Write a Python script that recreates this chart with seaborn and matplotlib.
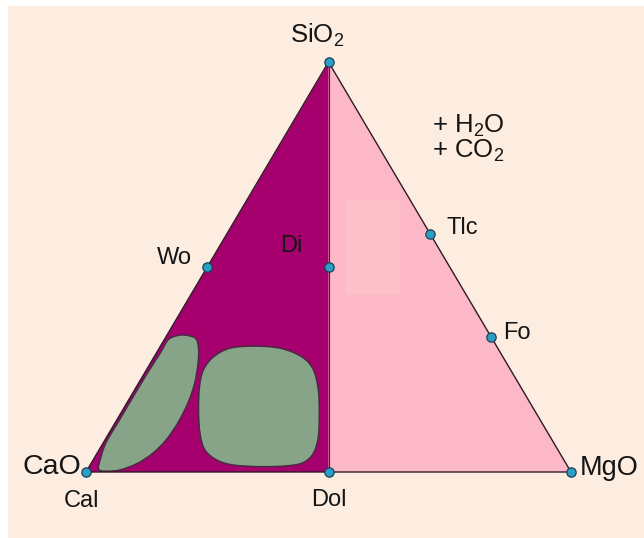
import numpy as np
import pandas as pd
import matplotlib
matplotlib.use("Agg")
import matplotlib.pyplot as plt
from matplotlib.path import Path
from matplotlib.patches import PathPatch, Polygon, Rectangle
import seaborn as sns

# Phases in the CaO-MgO-SiO2 system, molar proportions
phase_names = ["Cal", "Dol", "MgO", "SiO2", "Wo", "Di", "Tlc", "Fo"]
phase_cao = [1.00, 0.50, 0.00, 0.00, 0.50, 0.25, 0.00, 0.00]
phase_mgo = [0.00, 0.50, 1.00, 0.00, 0.00, 0.25, 0.42, 0.67]
phase_sio2 = [0.00, 0.00, 0.00, 1.00, 0.50, 0.50, 0.58, 0.33]

# Two stability fields (outline in diagram coordinates)
field_a_x = [0.204, 0.226, 0.232, 0.231, 0.224, 0.210, 0.189, 0.165, 0.138,
             0.106, 0.070, 0.039, 0.026, 0.029, 0.041, 0.069, 0.097, 0.127,
             0.153, 0.169, 0.186]
field_a_y = [0.334, 0.326, 0.302, 0.265, 0.216, 0.168, 0.119, 0.078, 0.046,
             0.021, 0.005, 0.002, 0.007, 0.029, 0.071, 0.127, 0.183, 0.242,
             0.290, 0.322, 0.332]
field_b_x = [0.345, 0.400, 0.445, 0.469, 0.479, 0.481, 0.479, 0.469, 0.448,
             0.414, 0.359, 0.304, 0.270, 0.245, 0.235, 0.232, 0.234, 0.242,
             0.263, 0.297]
field_b_y = [0.307, 0.302, 0.281, 0.249, 0.200, 0.143, 0.086, 0.046, 0.023,
             0.015, 0.013, 0.017, 0.029, 0.054, 0.094, 0.151, 0.208, 0.249,
             0.281, 0.302]

C_BG = "#FDEDE0"
C_MAG = "#A6006F"
C_PINK = "#FCB8C6"
C_GREEN = "#88A488"
C_DOT = "#2A9FC6"
C_LINE = "#2E1A28"
C_TEXT = "#151515"


def to_xy(cao, mgo, sio2):
    cao, mgo, sio2 = map(np.asarray, (cao, mgo, sio2))
    tot = cao + mgo + sio2
    return (mgo + sio2 / 2) / tot, sio2 / tot


def smooth_closed(xs, ys):
    """Closed Catmull-Rom outline expressed as cubic Bezier path."""
    P = np.column_stack([xs, ys])
    n = len(P)
    verts = [P[0]]
    codes = [Path.MOVETO]
    for i in range(n):
        p0, p1, p2, p3 = P[i - 1], P[i], P[(i + 1) % n], P[(i + 2) % n]
        c1 = p1 + (p2 - p0) / 6
        c2 = p2 - (p3 - p1) / 6
        verts += [c1, c2, p2]
        codes += [Path.CURVE4] * 3
    return Path(np.array(verts), codes)


sns.set_theme(style="white")
plt.rcParams["font.family"] = ["Liberation Sans", "DejaVu Sans"]
plt.rcParams["mathtext.fontset"] = "custom"
plt.rcParams["mathtext.rm"] = "Liberation Sans"
plt.rcParams["mathtext.it"] = "Liberation Sans"
plt.rcParams["mathtext.default"] = "rm"

fig = plt.figure(figsize=(6.44, 5.38), dpi=100, facecolor="white")
ax = fig.add_axes([8 / 644, 0, 636 / 644, 532 / 538])
ax.set_facecolor(C_BG)
ax.set_xlim(-78 / 485, 558 / 485)
ax.set_ylim(-66 / 410, 466 / 410)
ax.set_xticks([])
ax.set_yticks([])
for s in ax.spines.values():
    s.set_visible(False)

df = pd.DataFrame({"phase": phase_names, "CaO": phase_cao,
                   "MgO": phase_mgo, "SiO2": phase_sio2})
df["x"], df["y"] = to_xy(df["CaO"], df["MgO"], df["SiO2"])
pos = {r.phase: (r.x, r.y) for r in df.itertuples()}

cao, dol, mgo, top = pos["Cal"], pos["Dol"], pos["MgO"], pos["SiO2"]

# sub-triangles
ax.add_patch(Polygon([cao, dol, top], closed=True, fc=C_MAG, ec="none", zorder=1))
ax.add_patch(Polygon([dol, mgo, top], closed=True, fc=C_PINK, ec="none", zorder=1))
ax.add_patch(Rectangle((0.534, 0.432), 0.113, 0.231, fc="#FFC6CB",
                       ec="none", alpha=0.55, zorder=1.5))

# stability fields
for fx, fy in [(field_a_x, field_a_y), (field_b_x, field_b_y)]:
    ax.add_patch(PathPatch(smooth_closed(fx, fy), fc=C_GREEN, ec="#4A2A42",
                           lw=1.1, zorder=2))

# outline and Dol-SiO2 join
ax.add_patch(Polygon([cao, mgo, top], closed=True, fill=False, ec=C_LINE,
                     lw=1.0, zorder=3))
ax.plot([dol[0], top[0]], [dol[1], top[1]], color="#5A1040", lw=0.8, zorder=3)

sns.scatterplot(data=df, x="x", y="y", ax=ax, s=45, color=C_DOT,
                edgecolor="#1F3F55", linewidth=0.9, zorder=4, legend=False)
ax.set_xlabel("")
ax.set_ylabel("")

# labels: (anchor phase, text, dx px, dy px, ha, size)
labels = [
    ("SiO2", "SiO$_2$", -39, 19, "left", 18.5),
    ("Cal", "CaO", -5, -2, "right", 20.5),
    ("MgO", "MgO", 9, -3, "left", 19.5),
    ("Cal", "Cal", -5, -35, "center", 17),
    ("Dol", "Dol", 0, -34, "center", 17),
    ("Wo", "Wo", -15, 3, "right", 17),
    ("Di", "Di", -37, 15, "center", 17),
    ("Tlc", "Tlc", 16, 0, "left", 17),
    ("Fo", "Fo", 12, -2, "left", 17),
]
for ph, txt, dx, dy, ha, fs in labels:
    ax.annotate(txt, pos[ph], xytext=(dx, dy), textcoords="offset pixels",
                ha=ha, va="baseline", fontsize=fs, color=C_TEXT, zorder=5)

ax.text(0.713, 0.827, "+ H$_2$O", fontsize=18.5, color=C_TEXT,
        ha="left", va="baseline")
ax.text(0.713, 0.766, "+ CO$_2$", fontsize=18.5, color=C_TEXT,
        ha="left", va="baseline")

fig.savefig("out.png", dpi=100, facecolor="white")
